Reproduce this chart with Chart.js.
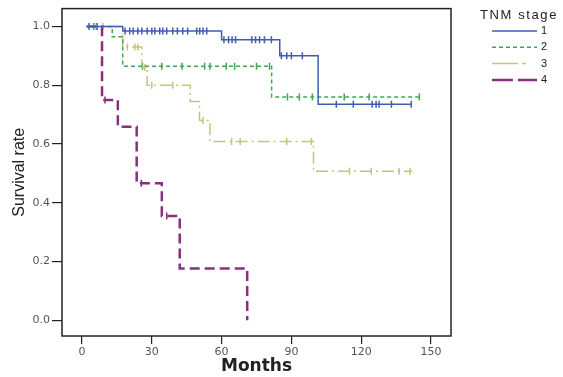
<!DOCTYPE html>
<html>
<head>
<meta charset="utf-8">
<title>Survival by TNM stage</title>
<script src="https://cdn.jsdelivr.net/npm/chart.js@4"></script>
<style>
    html, body { margin: 0; padding: 0; background: #fff; }
    #wrap { width: 563px; height: 377px; position: relative; }
</style>
</head>
<body>
<div id="wrap"><canvas id="survChart"></canvas></div>
<script>
// Kaplan-Meier curves: step times (months) and survival after each step
const stage1Time = [2, 17.5, 60, 85, 101.5, 141.5];
const stage1Surv = [1.0, 0.985, 0.955, 0.90, 0.735, 0.735];
const stage1Censor = [3, 6.5, 18.5, 20.5, 22, 24, 25.7, 28, 30, 31.3, 33.4, 34.7, 36.4, 39, 41, 43.3, 45.4,
    49.3, 50.6, 52, 53.6, 61, 63, 64.5, 66, 73, 74.6, 76.3, 78.4, 81.4, 85.7, 88, 90, 94.7,
    109.3, 116.6, 124.7, 126.4, 127.7, 133, 141.5];

const stage2Time = [2, 13, 17.5, 81.5, 145.5];
const stage2Surv = [1.0, 0.965, 0.865, 0.76, 0.76];
const stage2Censor = [5, 26, 34.3, 43, 52.7, 55, 62, 65.6, 75, 80.6, 88.3, 93.4, 99, 112.7, 123.4, 145];

const stage3Time = [2, 17.5, 25.7, 28, 46.5, 50.5, 55, 99.5, 142];
const stage3Surv = [1.0, 0.93, 0.86, 0.80, 0.745, 0.68, 0.608, 0.507, 0.507];
const stage3Censor = [6, 9, 19.5, 22.7, 24, 27, 30, 39, 52, 64.3, 68, 88, 98.6, 115, 124.3, 136.3, 141];

const stage4Time = [2, 8.6, 15.4, 23.5, 34.3, 42, 71];
const stage4Surv = [1.0, 0.75, 0.659, 0.466, 0.355, 0.176, 0.0];
const stage4Censor = [9.9, 25.5, 36.4];

const xTicks = [0, 30, 60, 90, 120, 150];
const yTicks = [0, 0.2, 0.4, 0.6, 0.8, 1.0];

// survival value of a step curve at time t (used to put censor marks on the curve)
function survAt(times, surv, t) {
    let s = surv[0];
    for (let i = 0; i < times.length; i++) {
        if (times[i] <= t) s = surv[i];
    }
    return s;
}

const curves = [
    {label: '1', time: stage1Time, surv: stage1Surv, censor: stage1Censor, color: '#3f5cb4', dash: [], width: 1.5, legendDash: []},
    {label: '2', time: stage2Time, surv: stage2Surv, censor: stage2Censor, color: '#3fa84c', dash: [4, 3], width: 1.5, legendDash: [4, 3]},
    {label: '3', time: stage3Time, surv: stage3Surv, censor: stage3Censor, color: '#c9c27c', dash: [12, 4, 2, 4], width: 1.5, legendDash: [26, 4, 4, 30]},
    {label: '4', time: stage4Time, surv: stage4Surv, censor: stage4Censor, color: '#86307f', dash: [10, 5], width: 2.5, legendDash: [21, 5]}
];

const datasets = [];
curves.forEach(c => {
    datasets.push({
        label: c.label,
        data: c.time.map((t, i) => ({x: t, y: c.surv[i]})),
        borderColor: c.color,
        borderDash: c.dash,
        borderWidth: c.width,
        stepped: true,
        pointRadius: 0,
        fill: false
    });
});
curves.forEach(c => {
    datasets.push({
        label: '',
        data: c.censor.map(t => ({x: t, y: survAt(c.time, c.surv, t)})),
        showLine: false,
        pointStyle: 'line',
        rotation: 90,
        pointRadius: 3.5,
        pointBorderColor: c.color,
        pointBorderWidth: 1.5,
        borderColor: c.color
    });
});

// box round the plot area
const framePlugin = {
    id: 'plotFrame',
    beforeDatasetsDraw(chart) {
        const {ctx, chartArea: a} = chart;
        ctx.save();
        ctx.strokeStyle = '#222';
        ctx.lineWidth = 1.5;
        ctx.strokeRect(a.left, a.top, a.right - a.left, a.bottom - a.top);
        ctx.restore();
    }
};

// legend on the right, drawn with the same line styles as the curves
const legendPlugin = {
    id: 'tnmLegend',
    afterDraw(chart) {
        const ctx = chart.ctx;
        const x0 = chart.chartArea.right;
        ctx.save();
        ctx.fillStyle = '#222';
        ctx.textBaseline = 'middle';
        ctx.font = '13px "Liberation Sans", Arial, sans-serif';
        ctx.letterSpacing = '1.6px';
        ctx.fillText('TNM stage', x0 + 29, 15);
        ctx.letterSpacing = '0px';
        ctx.font = '11px "Liberation Sans", Arial, sans-serif';
        curves.forEach((c, i) => {
            const y = 31 + i * 16.3;
            ctx.strokeStyle = c.color;
            ctx.lineWidth = c.width;
            ctx.setLineDash(c.legendDash);
            ctx.beginPath();
            ctx.moveTo(x0 + 41, y);
            ctx.lineTo(x0 + 86, y);
            ctx.stroke();
            ctx.setLineDash([]);
            ctx.fillText(c.label, x0 + 90, y);
        });
        ctx.restore();
    }
};

const tickFont = {family: '"DejaVu Sans", sans-serif', size: 11};

new Chart(document.getElementById('survChart'), {
    type: 'line',
    data: {datasets: datasets},
    options: {
        responsive: true,
        maintainAspectRatio: false,
        animation: false,
        layout: {padding: {top: 6, right: 112, bottom: 0, left: 0}},
        scales: {
            x: {
                type: 'linear',
                min: -8.6,
                max: 158.6,
                afterBuildTicks: s => { s.ticks = xTicks.map(v => ({value: v})); },
                afterFit: s => { s.height = 41; },
                grid: {drawOnChartArea: false, drawTicks: true, tickLength: 8, color: '#222', lineWidth: 1.2},
                border: {display: false},
                ticks: {padding: 2, color: '#555', font: tickFont},
                title: {
                    display: true, text: 'Months', color: '#222',
                    font: {family: '"DejaVu Sans", sans-serif', size: 17, weight: 'bold'},
                    padding: {top: 0, bottom: 0}
                }
            },
            y: {
                type: 'linear',
                min: -0.054,
                max: 1.061,
                afterBuildTicks: s => { s.ticks = yTicks.map(v => ({value: v})); },
                afterFit: s => { s.width = 62; },
                grid: {drawOnChartArea: false, drawTicks: true, tickLength: 10, color: '#222', lineWidth: 1.2},
                border: {display: false},
                ticks: {padding: 2, color: '#555', font: tickFont, callback: v => v.toFixed(1)},
                title: {
                    display: true, text: 'Survival rate', color: '#222',
                    font: {family: '"Liberation Sans", Arial, sans-serif', size: 16},
                    padding: {top: 10, bottom: 0}
                }
            }
        },
        plugins: {
            legend: {display: false},
            tooltip: {enabled: false}
        }
    },
    plugins: [framePlugin, legendPlugin]
});
</script>
</body>
</html>
